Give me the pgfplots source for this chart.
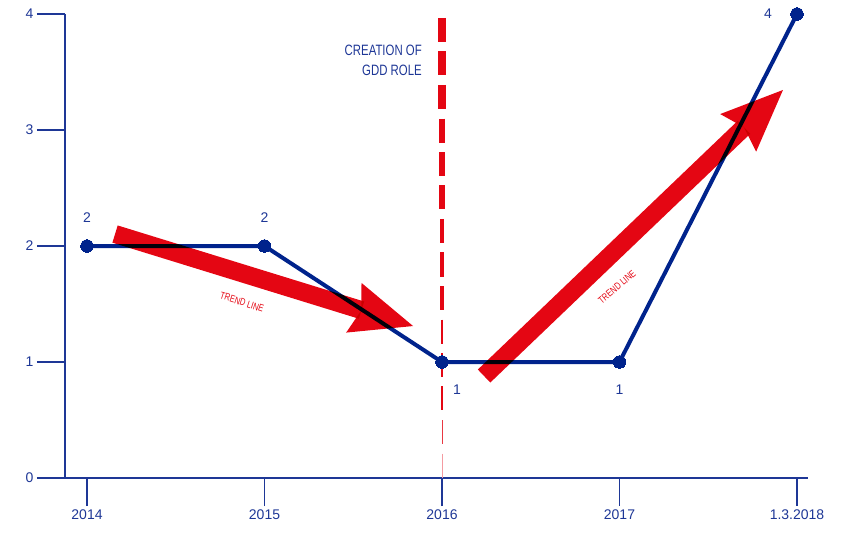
\documentclass[border=0pt]{standalone}
\usepackage{fontspec}
\setmainfont{Liberation Sans}
\newfontfamily\cond{Liberation Sans}[FakeStretch=0.76]
\usepackage{pgfplots}
\pgfplotsset{compat=1.18}
\usetikzlibrary{arrows.meta}
\definecolor{axisblue}{RGB}{30,55,150}
\definecolor{navy}{RGB}{0,35,140}
\definecolor{trendred}{RGB}{228,6,19}
\begin{document}
\begin{tikzpicture}
\begin{axis}[
  scale only axis, width=743pt, height=464pt,
  xmin=-0.124, xmax=4.062, ymin=0, ymax=4,
  axis x line=bottom, axis y line=left,
  axis line style={-, axisblue, line width=2pt},
  every outer x axis line/.append style={-},
  every outer y axis line/.append style={-},
  xtick={0,1,2,3,4}, xticklabels={2014,2015,2016,2017,1.3.2018},
  ytick={0,1,2,3,4},
  tick align=outside, major tick length=28pt,
  tick style={axisblue, line width=1.8pt},
  ticklabel style={font=\fontsize{14}{16}\selectfont, text=axisblue},
  /pgf/number format/assume math mode=true,
  clip=false,
]
% tapering dashed vertical line at 2016
\addplot[trendred, line width=8.7pt, forget plot] coordinates {(2,3.966) (2,3.759)};
\addplot[trendred, line width=8.0pt, forget plot] coordinates {(2,3.677) (2,3.470)};
\addplot[trendred, line width=7.4pt, forget plot] coordinates {(2,3.388) (2,3.181)};
\addplot[trendred, line width=6.7pt, forget plot] coordinates {(2,3.099) (2,2.892)};
\addplot[trendred, line width=6.1pt, forget plot] coordinates {(2,2.810) (2,2.603)};
\addplot[trendred, line width=5.4pt, forget plot] coordinates {(2,2.522) (2,2.315)};
\addplot[trendred, line width=4.8pt, forget plot] coordinates {(2,2.233) (2,2.026)};
\addplot[trendred, line width=4.1pt, forget plot] coordinates {(2,1.944) (2,1.737)};
\addplot[trendred, line width=3.5pt, forget plot] coordinates {(2,1.655) (2,1.448)};
\addplot[trendred, line width=2.8pt, forget plot] coordinates {(2,1.366) (2,1.159)};
\addplot[trendred, line width=2.2pt, forget plot] coordinates {(2,1.078) (2,0.871)};
\addplot[trendred, line width=1.5pt, forget plot] coordinates {(2,0.789) (2,0.582)};
\addplot[trendred!80, line width=0.9pt, forget plot] coordinates {(2,0.500) (2,0.293)};
\addplot[trendred!40, line width=0.4pt, forget plot] coordinates {(2,0.211) (2,0.004)};
% main series
\addplot[navy, line width=4pt, mark=*, mark size=6.3pt, mark options={fill=navy, draw=navy, line width=0pt}]
  coordinates {(0,2) (1,2) (2,1) (3,1) (4,4)};
% trend arrows
\addplot[trendred, line width=18pt, blend mode=multiply,
  -{Stealth[length=62pt,width=52pt,inset=8pt,line width=0pt]}]
  coordinates {(0.158,2.103) (1.837,1.310)};
\addplot[trendred, line width=18pt, blend mode=multiply,
  -{Stealth[length=62pt,width=52pt,inset=8pt,line width=0pt]}]
  coordinates {(2.237,0.879) (3.921,3.345)};
% labels
\node[text=axisblue, font=\fontsize{14}{16}\selectfont] at (axis cs:0,2) [yshift=28pt] {2};
\node[text=axisblue, font=\fontsize{14}{16}\selectfont] at (axis cs:1,2) [yshift=28pt] {2};
\node[text=axisblue, font=\fontsize{14}{16}\selectfont] at (axis cs:2,1) [xshift=15pt, yshift=-28pt] {1};
\node[text=axisblue, font=\fontsize{14}{16}\selectfont] at (axis cs:3,1) [yshift=-28pt] {1};
\node[text=axisblue, font=\fontsize{14}{16}\selectfont] at (axis cs:4,4) [xshift=-29pt] {4};
\node[anchor=east, align=right, inner sep=0pt, text=axisblue, font=\cond\fontsize{15}{20}\selectfont]
  at (axis cs:1.887,3.603) {CREATION OF\\GDD ROLE};
\node[rotate=-18, text=trendred, font=\cond\fontsize{10}{12}\selectfont] at (axis cs:0.873,1.517) {TREND LINE};
\node[rotate=40, text=trendred, font=\cond\fontsize{10}{12}\selectfont] at (axis cs:2.986,1.647) {TREND LINE};
\end{axis}
\pgfresetboundingbox
\useasboundingbox (-65pt,-55pt) rectangle (776pt,478pt);
\end{tikzpicture}
\end{document}
